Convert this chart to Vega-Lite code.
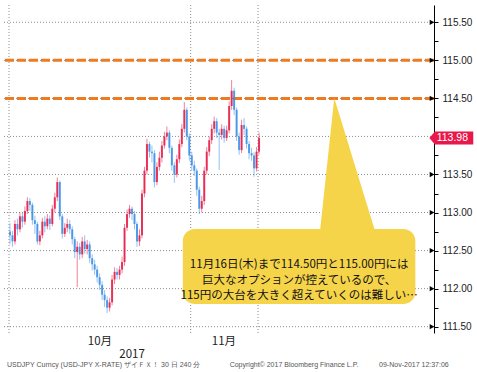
{
  "$schema": "https://vega.github.io/schema/vega-lite/v6.json",
  "width": 430,
  "height": 328,
  "autosize": "none",
  "padding": {"left": 4, "top": 5, "right": 43, "bottom": 39},
  "background": "white",
  "config": {
    "view": {"stroke": null},
    "axisY": {"domainColor": "#000", "domainWidth": 1, "tickColor": "#000", "tickSize": 4, "tickWidth": 1,
      "labelFont": "Liberation Sans", "labelFontSize": 10, "labelColor": "#222", "labelPadding": 4, "grid": false}
  },
  "datasets": {
    "grid": [{"p":111.5},{"p":112.0},{"p":112.5},{"p":113.0},{"p":113.5},{"p":114.0},{"p":114.5},{"p":115.0},{"p":115.5}],
    "majors": [{"p":111.5},{"p":112.0},{"p":112.5},{"p":113.0},{"p":113.5},{"p":114.5},{"p":115.0},{"p":115.5}],
    "vgrid": [{"i":-0.39},{"i":72.55},{"i":99.6}],
    "levels": [{"p":115.0},{"p":114.5}],
    "candles": [
      {"i":0,"o":112.75,"h":112.86,"l":112.58,"c":112.70},
      {"i":1,"o":112.70,"h":112.76,"l":112.55,"c":112.62},
      {"i":2,"o":112.62,"h":112.90,"l":112.58,"c":112.85},
      {"i":3,"o":112.85,"h":112.92,"l":112.70,"c":112.78},
      {"i":4,"o":112.78,"h":113.00,"l":112.74,"c":112.95},
      {"i":5,"o":112.95,"h":113.00,"l":112.80,"c":112.88},
      {"i":6,"o":112.88,"h":113.08,"l":112.84,"c":113.02},
      {"i":7,"o":113.02,"h":113.20,"l":112.98,"c":113.15},
      {"i":8,"o":113.15,"h":113.19,"l":113.02,"c":113.10},
      {"i":9,"o":113.10,"h":113.13,"l":112.84,"c":112.90},
      {"i":10,"o":112.90,"h":112.96,"l":112.72,"c":112.85},
      {"i":11,"o":112.85,"h":112.88,"l":112.58,"c":112.62},
      {"i":12,"o":112.62,"h":112.76,"l":112.57,"c":112.70},
      {"i":13,"o":112.70,"h":112.93,"l":112.66,"c":112.88},
      {"i":14,"o":112.88,"h":112.95,"l":112.74,"c":112.82},
      {"i":15,"o":112.82,"h":112.98,"l":112.78,"c":112.92},
      {"i":16,"o":112.92,"h":112.96,"l":112.77,"c":112.85},
      {"i":17,"o":112.85,"h":113.10,"l":112.82,"c":113.05},
      {"i":18,"o":113.05,"h":113.26,"l":113.00,"c":113.20},
      {"i":19,"o":113.20,"h":113.46,"l":113.15,"c":113.40},
      {"i":20,"o":113.40,"h":113.42,"l":112.90,"c":112.95},
      {"i":21,"o":112.95,"h":112.98,"l":112.66,"c":112.72},
      {"i":22,"o":112.72,"h":112.86,"l":112.68,"c":112.80},
      {"i":23,"o":112.80,"h":112.92,"l":112.74,"c":112.85},
      {"i":24,"o":112.85,"h":112.90,"l":112.72,"c":112.78},
      {"i":25,"o":112.78,"h":112.82,"l":112.58,"c":112.65},
      {"i":26,"o":112.65,"h":112.68,"l":112.40,"c":112.48},
      {"i":27,"o":112.48,"h":112.62,"l":112.02,"c":112.55},
      {"i":28,"o":112.55,"h":112.60,"l":112.38,"c":112.45},
      {"i":29,"o":112.45,"h":112.68,"l":112.40,"c":112.62},
      {"i":30,"o":112.62,"h":112.70,"l":112.46,"c":112.52},
      {"i":31,"o":112.52,"h":112.64,"l":112.45,"c":112.58},
      {"i":32,"o":112.58,"h":112.62,"l":112.34,"c":112.40},
      {"i":33,"o":112.40,"h":112.45,"l":112.24,"c":112.32},
      {"i":34,"o":112.32,"h":112.38,"l":112.18,"c":112.25},
      {"i":35,"o":112.25,"h":112.30,"l":112.08,"c":112.15},
      {"i":36,"o":112.15,"h":112.20,"l":111.98,"c":112.05},
      {"i":37,"o":112.05,"h":112.10,"l":111.85,"c":111.92},
      {"i":38,"o":111.92,"h":111.98,"l":111.76,"c":111.85},
      {"i":39,"o":111.85,"h":111.90,"l":111.68,"c":111.75},
      {"i":40,"o":111.75,"h":111.88,"l":111.70,"c":111.82},
      {"i":41,"o":111.82,"h":112.18,"l":111.78,"c":112.12},
      {"i":42,"o":112.12,"h":112.28,"l":112.06,"c":112.22},
      {"i":43,"o":112.22,"h":112.27,"l":112.12,"c":112.18},
      {"i":44,"o":112.18,"h":112.30,"l":112.12,"c":112.25},
      {"i":45,"o":112.25,"h":112.42,"l":112.20,"c":112.35},
      {"i":46,"o":112.35,"h":112.85,"l":112.30,"c":112.80},
      {"i":47,"o":112.80,"h":113.04,"l":112.76,"c":112.98},
      {"i":48,"o":112.98,"h":113.10,"l":112.93,"c":113.05},
      {"i":49,"o":113.05,"h":113.08,"l":112.90,"c":112.98},
      {"i":50,"o":112.98,"h":113.02,"l":112.78,"c":112.85},
      {"i":51,"o":112.85,"h":112.88,"l":112.55,"c":112.62},
      {"i":52,"o":112.62,"h":112.78,"l":112.56,"c":112.70},
      {"i":53,"o":112.70,"h":113.30,"l":112.66,"c":113.25},
      {"i":54,"o":113.25,"h":113.60,"l":113.20,"c":113.55},
      {"i":55,"o":113.55,"h":113.97,"l":113.50,"c":113.90},
      {"i":56,"o":113.90,"h":113.93,"l":113.72,"c":113.80},
      {"i":57,"o":113.80,"h":113.88,"l":113.66,"c":113.78},
      {"i":58,"o":113.78,"h":113.82,"l":113.33,"c":113.40},
      {"i":59,"o":113.40,"h":113.66,"l":113.36,"c":113.60},
      {"i":60,"o":113.60,"h":113.80,"l":113.55,"c":113.72},
      {"i":61,"o":113.72,"h":113.94,"l":113.66,"c":113.88},
      {"i":62,"o":113.88,"h":114.06,"l":113.84,"c":114.00},
      {"i":63,"o":114.00,"h":114.13,"l":113.95,"c":114.05},
      {"i":64,"o":114.05,"h":114.08,"l":113.78,"c":113.85},
      {"i":65,"o":113.85,"h":113.88,"l":113.55,"c":113.62},
      {"i":66,"o":113.62,"h":113.66,"l":113.39,"c":113.50},
      {"i":67,"o":113.50,"h":113.76,"l":113.46,"c":113.70},
      {"i":68,"o":113.70,"h":113.96,"l":113.65,"c":113.90},
      {"i":69,"o":113.90,"h":114.16,"l":113.86,"c":114.10},
      {"i":70,"o":114.10,"h":114.45,"l":114.05,"c":114.35},
      {"i":71,"o":114.35,"h":114.38,"l":113.95,"c":114.00},
      {"i":72,"o":114.00,"h":114.04,"l":113.68,"c":113.75},
      {"i":73,"o":113.75,"h":113.80,"l":113.55,"c":113.62},
      {"i":74,"o":113.62,"h":113.68,"l":113.48,"c":113.55},
      {"i":75,"o":113.55,"h":113.58,"l":113.22,"c":113.30},
      {"i":76,"o":113.30,"h":113.34,"l":112.98,"c":113.05},
      {"i":77,"o":113.05,"h":113.22,"l":113.00,"c":113.15},
      {"i":78,"o":113.15,"h":113.60,"l":113.10,"c":113.55},
      {"i":79,"o":113.55,"h":113.86,"l":113.50,"c":113.80},
      {"i":80,"o":113.80,"h":114.00,"l":113.74,"c":113.95},
      {"i":81,"o":113.95,"h":114.16,"l":113.90,"c":114.10},
      {"i":82,"o":114.10,"h":114.26,"l":114.04,"c":114.20},
      {"i":83,"o":114.20,"h":114.24,"l":113.98,"c":114.05},
      {"i":84,"o":114.05,"h":114.10,"l":113.56,"c":114.02},
      {"i":85,"o":114.02,"h":114.16,"l":113.96,"c":114.10},
      {"i":86,"o":114.10,"h":114.14,"l":113.92,"c":113.98},
      {"i":87,"o":113.98,"h":114.14,"l":113.94,"c":114.08},
      {"i":88,"o":114.08,"h":114.46,"l":114.04,"c":114.40},
      {"i":89,"o":114.40,"h":114.74,"l":114.35,"c":114.60},
      {"i":90,"o":114.60,"h":114.64,"l":114.28,"c":114.35},
      {"i":91,"o":114.35,"h":114.38,"l":113.94,"c":114.00},
      {"i":92,"o":114.00,"h":114.05,"l":113.76,"c":113.82},
      {"i":93,"o":113.82,"h":114.22,"l":113.78,"c":114.15},
      {"i":94,"o":114.15,"h":114.24,"l":114.02,"c":114.10},
      {"i":95,"o":114.10,"h":114.13,"l":113.84,"c":113.90},
      {"i":96,"o":113.90,"h":113.94,"l":113.70,"c":113.78},
      {"i":97,"o":113.78,"h":113.85,"l":113.68,"c":113.75},
      {"i":98,"o":113.75,"h":113.79,"l":113.47,"c":113.58},
      {"i":99,"o":113.58,"h":113.86,"l":113.54,"c":113.80},
      {"i":100,"o":113.80,"h":114.05,"l":113.76,"c":113.98}
    ],
    "pointer": [{"i":124.3,"p":112.7},{"i":130.2,"p":114.505},{"i":147.1,"p":112.7}],
    "box": [{"a":69.4,"b":162.75,"top":112.784,"bot":111.798}],
    "note": [{"i":116.1,"p":112.304,"t":"11月16日(木)まで114.50円と115.00円には\n巨大なオプションが控えているので、\n115円の大台を大きく超えていくのは難しい…"}],
    "tag": [{"i":168.4,"top":113.98,"bot":113.98},{"i":170.6,"top":114.065,"bot":113.895},{"i":186,"top":114.065,"bot":113.895}],
    "tagtext": [{"i":177.6,"p":113.98,"t":"113.98"}],
    "months": [{"i":36.1,"p":111.299,"t":"10月"},{"i":85.9,"p":111.299,"t":"11月"},{"i":49,"p":111.134,"t":"2017"}],
    "footer": [
      {"i":-1.18,"p":111.003,"t":"USDJPY Curncy (USD-JPY X-RATE) ザイＦＸ！ 30 日 240 分"},
      {"i":88.2,"p":111.003,"t":"Copyright© 2017 Bloomberg Finance L.P."},
      {"i":148.2,"p":111.003,"t":"09-Nov-2017 12:37:06"}
    ]
  },
  "layer": [
    {
      "data": {"name": "grid"},
      "mark": {"type": "rule", "stroke": "#8c8c8c", "strokeWidth": 1, "strokeDash": [1, 2]},
      "encoding": {
        "y": {"field": "p", "type": "quantitative",
          "scale": {"domain": [111.417, 115.727], "nice": false, "zero": false},
          "axis": {"orient": "right", "title": null,
            "values": [111.5,111.75,112.0,112.25,112.5,112.75,113.0,113.25,113.5,113.75,114.0,114.25,114.5,114.75,115.0,115.25,115.5],
            "labelExpr": "datum.value == 114 ? '' : ((datum.value * 4) % 2 == 0 ? format(datum.value, '.2f') : '')"}
        }
      }
    },
    {
      "data": {"name": "vgrid"},
      "mark": {"type": "rule", "stroke": "#8c8c8c", "strokeWidth": 1, "strokeDash": [1, 2]},
      "encoding": {
        "x": {"field": "i", "type": "quantitative", "scale": {"domain": [-0.39, 168.24], "nice": false, "zero": false}, "axis": null}
      }
    },
    {
      "data": {"name": "levels"},
      "mark": {"type": "rule", "stroke": "#EE7A22", "strokeWidth": 3, "strokeDash": [9, 3]},
      "encoding": {
        "y": {"field": "p", "type": "quantitative", "scale": {"domain": [111.417, 115.727], "nice": false, "zero": false},
          "axis": {"orient": "right", "title": null,
            "values": [111.5,111.75,112.0,112.25,112.5,112.75,113.0,113.25,113.5,113.75,114.0,114.25,114.5,114.75,115.0,115.25,115.5],
            "labelExpr": "datum.value == 114 ? '' : ((datum.value * 4) % 2 == 0 ? format(datum.value, '.2f') : '')"}}
      }
    },
    {
      "data": {"name": "candles"},
      "mark": {"type": "rule", "strokeWidth": 1, "opacity": 0.55},
      "encoding": {
        "x": {"field": "i", "type": "quantitative", "scale": {"domain": [-0.39, 168.24], "nice": false, "zero": false}, "axis": null},
        "y": {"field": "l", "type": "quantitative", "scale": {"domain": [111.417, 115.727], "nice": false, "zero": false},
          "axis": {"orient": "right", "title": null,
            "values": [111.5,111.75,112.0,112.25,112.5,112.75,113.0,113.25,113.5,113.75,114.0,114.25,114.5,114.75,115.0,115.25,115.5],
            "labelExpr": "datum.value == 114 ? '' : ((datum.value * 4) % 2 == 0 ? format(datum.value, '.2f') : '')"}},
        "y2": {"field": "h"},
        "color": {"condition": {"test": "datum.c >= datum.o", "value": "#E41A47"}, "value": "#3A8EE6"}
      }
    },
    {
      "data": {"name": "candles"},
      "mark": {"type": "bar", "size": 2, "opacity": 0.85},
      "encoding": {
        "x": {"field": "i", "type": "quantitative", "scale": {"domain": [-0.39, 168.24], "nice": false, "zero": false}, "axis": null},
        "y": {"field": "o", "type": "quantitative", "scale": {"domain": [111.417, 115.727], "nice": false, "zero": false},
          "axis": {"orient": "right", "title": null,
            "values": [111.5,111.75,112.0,112.25,112.5,112.75,113.0,113.25,113.5,113.75,114.0,114.25,114.5,114.75,115.0,115.25,115.5],
            "labelExpr": "datum.value == 114 ? '' : ((datum.value * 4) % 2 == 0 ? format(datum.value, '.2f') : '')"}},
        "y2": {"field": "c"},
        "color": {"condition": {"test": "datum.c >= datum.o", "value": "#E41A47"}, "value": "#3A8EE6"}
      }
    },
    {
      "data": {"name": "pointer"},
      "mark": {"type": "area", "orient": "vertical", "fill": "#F6D44A"},
      "encoding": {
        "x": {"field": "i", "type": "quantitative", "scale": {"domain": [-0.39, 168.24], "nice": false, "zero": false}, "axis": null},
        "y": {"field": "p", "type": "quantitative", "scale": {"domain": [111.417, 115.727], "nice": false, "zero": false},
          "axis": {"orient": "right", "title": null,
            "values": [111.5,111.75,112.0,112.25,112.5,112.75,113.0,113.25,113.5,113.75,114.0,114.25,114.5,114.75,115.0,115.25,115.5],
            "labelExpr": "datum.value == 114 ? '' : ((datum.value * 4) % 2 == 0 ? format(datum.value, '.2f') : '')"}},
        "y2": {"datum": 112.7}
      }
    },
    {
      "data": {"name": "box"},
      "mark": {"type": "rect", "fill": "#F6D44A", "cornerRadius": 12},
      "encoding": {
        "x": {"field": "a", "type": "quantitative", "scale": {"domain": [-0.39, 168.24], "nice": false, "zero": false}, "axis": null},
        "x2": {"field": "b"},
        "y": {"field": "top", "type": "quantitative", "scale": {"domain": [111.417, 115.727], "nice": false, "zero": false},
          "axis": {"orient": "right", "title": null,
            "values": [111.5,111.75,112.0,112.25,112.5,112.75,113.0,113.25,113.5,113.75,114.0,114.25,114.5,114.75,115.0,115.25,115.5],
            "labelExpr": "datum.value == 114 ? '' : ((datum.value * 4) % 2 == 0 ? format(datum.value, '.2f') : '')"}},
        "y2": {"field": "bot"}
      }
    },
    {
      "data": {"name": "note"},
      "mark": {"type": "text", "font": "Noto Sans CJK JP", "fontSize": 11.5, "lineHeight": 15.5, "lineBreak": "\n", "align": "center", "baseline": "middle", "fill": "#111"},
      "encoding": {
        "x": {"field": "i", "type": "quantitative", "scale": {"domain": [-0.39, 168.24], "nice": false, "zero": false}, "axis": null},
        "y": {"field": "p", "type": "quantitative", "scale": {"domain": [111.417, 115.727], "nice": false, "zero": false},
          "axis": {"orient": "right", "title": null,
            "values": [111.5,111.75,112.0,112.25,112.5,112.75,113.0,113.25,113.5,113.75,114.0,114.25,114.5,114.75,115.0,115.25,115.5],
            "labelExpr": "datum.value == 114 ? '' : ((datum.value * 4) % 2 == 0 ? format(datum.value, '.2f') : '')"}},
        "text": {"field": "t"}
      }
    },
    {
      "data": {"name": "majors"},
      "mark": {"type": "point", "shape": "triangle-right", "filled": true, "fill": "#000", "opacity": 1, "size": 28, "xOffset": 3},
      "encoding": {
        "x": {"datum": 168.24, "type": "quantitative", "scale": {"domain": [-0.39, 168.24], "nice": false, "zero": false}, "axis": null},
        "y": {"field": "p", "type": "quantitative", "scale": {"domain": [111.417, 115.727], "nice": false, "zero": false},
          "axis": {"orient": "right", "title": null,
            "values": [111.5,111.75,112.0,112.25,112.5,112.75,113.0,113.25,113.5,113.75,114.0,114.25,114.5,114.75,115.0,115.25,115.5],
            "labelExpr": "datum.value == 114 ? '' : ((datum.value * 4) % 2 == 0 ? format(datum.value, '.2f') : '')"}}
      }
    },
    {
      "data": {"name": "tag"},
      "mark": {"type": "area", "orient": "vertical", "fill": "#E8194A"},
      "encoding": {
        "x": {"field": "i", "type": "quantitative", "scale": {"domain": [-0.39, 168.24], "nice": false, "zero": false}, "axis": null},
        "y": {"field": "top", "type": "quantitative", "scale": {"domain": [111.417, 115.727], "nice": false, "zero": false},
          "axis": {"orient": "right", "title": null,
            "values": [111.5,111.75,112.0,112.25,112.5,112.75,113.0,113.25,113.5,113.75,114.0,114.25,114.5,114.75,115.0,115.25,115.5],
            "labelExpr": "datum.value == 114 ? '' : ((datum.value * 4) % 2 == 0 ? format(datum.value, '.2f') : '')"}},
        "y2": {"field": "bot"}
      }
    },
    {
      "data": {"name": "tagtext"},
      "mark": {"type": "text", "font": "Liberation Sans", "fontSize": 10.5, "align": "center", "baseline": "middle", "fill": "#fff"},
      "encoding": {
        "x": {"field": "i", "type": "quantitative", "scale": {"domain": [-0.39, 168.24], "nice": false, "zero": false}, "axis": null},
        "y": {"field": "p", "type": "quantitative", "scale": {"domain": [111.417, 115.727], "nice": false, "zero": false},
          "axis": {"orient": "right", "title": null,
            "values": [111.5,111.75,112.0,112.25,112.5,112.75,113.0,113.25,113.5,113.75,114.0,114.25,114.5,114.75,115.0,115.25,115.5],
            "labelExpr": "datum.value == 114 ? '' : ((datum.value * 4) % 2 == 0 ? format(datum.value, '.2f') : '')"}},
        "text": {"field": "t"}
      }
    },
    {
      "data": {"name": "months"},
      "mark": {"type": "text", "font": "Noto Sans CJK JP", "fontSize": 11.5, "align": "center", "baseline": "middle", "fill": "#222"},
      "encoding": {
        "x": {"field": "i", "type": "quantitative", "scale": {"domain": [-0.39, 168.24], "nice": false, "zero": false}, "axis": null},
        "y": {"field": "p", "type": "quantitative", "scale": {"domain": [111.417, 115.727], "nice": false, "zero": false},
          "axis": {"orient": "right", "title": null,
            "values": [111.5,111.75,112.0,112.25,112.5,112.75,113.0,113.25,113.5,113.75,114.0,114.25,114.5,114.75,115.0,115.25,115.5],
            "labelExpr": "datum.value == 114 ? '' : ((datum.value * 4) % 2 == 0 ? format(datum.value, '.2f') : '')"}},
        "text": {"field": "t"}
      }
    },
    {
      "data": {"name": "footer"},
      "mark": {"type": "text", "font": "Liberation Sans", "fontSize": 7, "align": "left", "baseline": "middle", "fill": "#555"},
      "encoding": {
        "x": {"field": "i", "type": "quantitative", "scale": {"domain": [-0.39, 168.24], "nice": false, "zero": false}, "axis": null},
        "y": {"field": "p", "type": "quantitative", "scale": {"domain": [111.417, 115.727], "nice": false, "zero": false},
          "axis": {"orient": "right", "title": null,
            "values": [111.5,111.75,112.0,112.25,112.5,112.75,113.0,113.25,113.5,113.75,114.0,114.25,114.5,114.75,115.0,115.25,115.5],
            "labelExpr": "datum.value == 114 ? '' : ((datum.value * 4) % 2 == 0 ? format(datum.value, '.2f') : '')"}},
        "text": {"field": "t"}
      }
    }
  ]
}
